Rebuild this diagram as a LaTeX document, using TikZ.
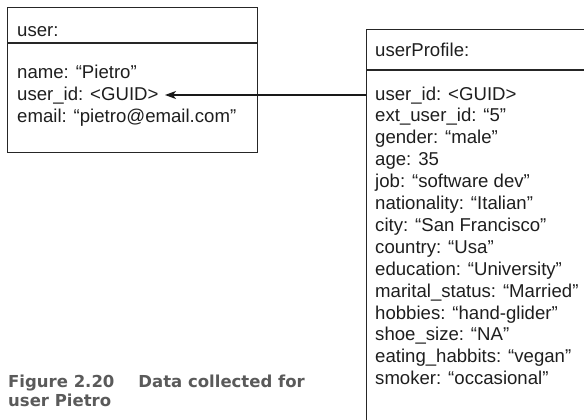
\documentclass[tikz,border=0pt]{standalone}
\usepackage{fontspec}
\setmainfont{Liberation Sans}
\newfontfamily\capfont{DejaVu Sans}
\usetikzlibrary{arrows.meta}
\definecolor{txt}{HTML}{1E1E1E}
\definecolor{capgray}{HTML}{5A5A5A}
\tikzset{
  boxline/.style={draw=black!85, line width=1.2pt},
  field/.style={anchor=base west, inner sep=0pt, text=txt, font=\fontsize{18.6}{21.9}\selectfont},
  captxt/.style={anchor=base west, inner sep=0pt, text=capgray, font=\capfont\bfseries\fontsize{16.5}{19}\selectfont},
  link/.style={draw=black!90, line width=1.1pt, -{Stealth[length=11pt,width=8pt,inset=3pt]}}
}
\begin{document}
\begin{tikzpicture}[x=1pt,y=1pt]
\useasboundingbox (0,0) rectangle (584,-420);
\clip (0,0) rectangle (584,-420);
% user box
\node[boxline, rectangle, anchor=north west, minimum width=250pt, minimum height=145pt, inner sep=0pt] (userbox) at (7,-7) {};
\coordinate (uhl) at (7,-43);
\draw[boxline] (uhl) -- (userbox.east |- uhl);
\node[field] (utitle) at (17,-37) {user:};
\node[field] (uname) at (17,-78) {name: “Pietro”};
\node[field] (uid) at (17,-100) {user\_id: <GUID>};
\node[field] (umail) at (17,-122) {email: “pietro@email.com”};
% profile box
\node[boxline, rectangle, anchor=north west, minimum width=230pt, minimum height=420pt, inner sep=0pt] (profbox) at (366,-29) {};
\coordinate (phl) at (366,-70);
\draw[boxline] (phl) -- (profbox.east |- phl);
\node[field] (ptitle) at (375,-57) {userProfile:};
\foreach \t [count=\i from 0] in {user\_id: <GUID>, ext\_user\_id: “5”, gender: “male”, age: 35, job: “software dev”, nationality: “Italian”, city: “San Francisco”, country: “Usa”, education: “University”, marital\_status: “Married”, hobbies: “hand-glider”, shoe\_size: “NA”, eating\_habbits: “vegan”, smoker: “occasional”}{
  \node[field] (p\i) at (375,{-100-21.9*\i}) {\t};
}
% connector
\coordinate (tipend) at (165,-95);
\draw[link] (profbox.west |- tipend) -- (tipend);
% caption
\node[captxt] (cap1) at (8,-387) {Figure 2.20\hspace{24pt}Data collected for};
\node[captxt] (cap2) at (8,-406) {user Pietro};
\end{tikzpicture}
\end{document}
